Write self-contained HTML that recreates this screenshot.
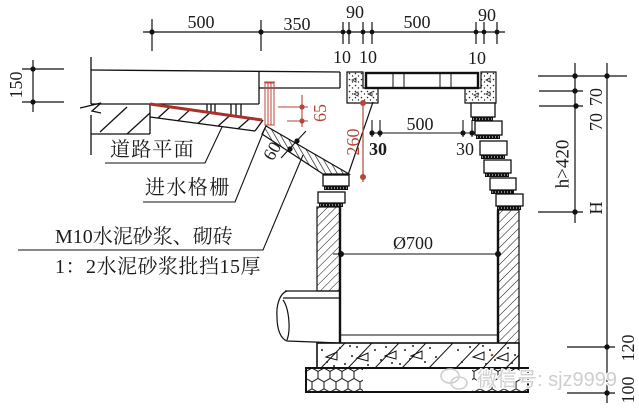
<!DOCTYPE html>
<html><head><meta charset="utf-8">
<style>
html,body{margin:0;padding:0;background:#fff;}
svg{display:block;}
text{font-family:"Liberation Serif","Noto Serif CJK SC",serif;fill:#1c1c1c;}
.n{font-size:18px;}
.cn{font-size:20px;}
.rd{fill:#b4463c;}
</style></head><body>
<svg width="639" height="410" viewBox="0 0 639 410" xmlns="http://www.w3.org/2000/svg">
<defs>
 <pattern id="hw" width="6" height="6" patternUnits="userSpaceOnUse" patternTransform="rotate(45)"><line x1="0" y1="0" x2="0" y2="6" stroke="#111" stroke-width="1"/></pattern>
 <pattern id="hb" width="5" height="5" patternUnits="userSpaceOnUse" patternTransform="rotate(-30)"><line x1="0" y1="0" x2="0" y2="5" stroke="#111" stroke-width="1.3"/></pattern>
 <pattern id="dots" width="6" height="6" patternUnits="userSpaceOnUse"><circle cx="1.5" cy="1.5" r="0.8" fill="#222"/><circle cx="4.5" cy="4" r="0.7" fill="#222"/></pattern>
 <pattern id="hex" x="306" y="368" width="12" height="20.78" patternUnits="userSpaceOnUse"><path d="M6,0 L12,3.46 L12,10.39 L6,13.86 L0,10.39 L0,3.46 Z M6,13.86 L6,20.78" fill="none" stroke="#111" stroke-width="1"/></pattern>
 <clipPath id="slabclip"><rect x="317" y="343" width="202" height="25"/></clipPath>
</defs>

<!-- top dimension -->
<g stroke="#111" stroke-width="1.2">
 <line x1="143" y1="32" x2="505" y2="32"/>
 <line x1="152" y1="19" x2="152" y2="51"/>
 <line x1="261" y1="20" x2="261" y2="51"/>
 <line x1="343" y1="22" x2="343" y2="44"/>
 <line x1="349" y1="22" x2="349" y2="44"/>
 <line x1="363" y1="22" x2="363" y2="44"/>
 <line x1="372" y1="22" x2="372" y2="44"/>
 <line x1="476" y1="22" x2="476" y2="44"/>
 <line x1="484" y1="22" x2="484" y2="44"/>
 <line x1="497" y1="22" x2="497" y2="44"/>
</g>
<g fill="#111">
 <circle cx="152" cy="32" r="2.6"/><circle cx="261" cy="32" r="2.6"/>
 <circle cx="343" cy="32" r="2.4"/><circle cx="349" cy="32" r="2.4"/>
 <circle cx="363" cy="32" r="2.4"/><circle cx="372" cy="32" r="2.4"/>
 <circle cx="476" cy="32" r="2.4"/><circle cx="484" cy="32" r="2.4"/><circle cx="497" cy="32" r="2.4"/>
</g>
<text class="n" x="201" y="28" text-anchor="middle">500</text>
<text class="n" x="297" y="30" text-anchor="middle">350</text>
<text class="n" x="355" y="18" text-anchor="middle">90</text>
<text class="n" x="417" y="28" text-anchor="middle">500</text>
<text class="n" x="487" y="21" text-anchor="middle">90</text>
<text class="n" x="342" y="63" text-anchor="middle">10</text>
<text class="n" x="368" y="63" text-anchor="middle">10</text>
<text class="n" x="477" y="64" text-anchor="middle">10</text>

<!-- 150 dim -->
<g stroke="#111" stroke-width="1.2">
 <line x1="33" y1="60" x2="33" y2="112"/>
 <line x1="22" y1="69" x2="64" y2="69"/>
 <line x1="22" y1="102" x2="64" y2="102"/>
</g>
<circle cx="33" cy="69" r="2.6" fill="#111"/><circle cx="33" cy="102" r="2.6" fill="#111"/>
<text class="n" x="16" y="85" text-anchor="middle" dominant-baseline="central" transform="rotate(-90 16 85)">150</text>

<!-- road -->
<g stroke="#111" stroke-width="1.3" fill="none">
 <line x1="91" y1="70" x2="340" y2="72"/>
 <line x1="91" y1="57" x2="91" y2="104"/>
 <line x1="91" y1="104" x2="259" y2="104"/>
 <line x1="259" y1="71" x2="259" y2="104"/>
 <line x1="259" y1="88" x2="340" y2="88"/>
 <line x1="340" y1="72" x2="340" y2="88"/>
 <polyline points="80,108 101,103 92,111 101,113"/>
 <line x1="91" y1="115" x2="91" y2="155"/>
 <line x1="150" y1="104" x2="150" y2="134"/>
 <line x1="91" y1="134" x2="150" y2="134"/>
 <line x1="100" y1="132" x2="127" y2="107"/>
 <line x1="127" y1="134" x2="150" y2="113"/>
 <line x1="150" y1="117" x2="255" y2="131"/>
 <line x1="255" y1="131" x2="263" y2="120"/>
 <line x1="158" y1="118" x2="170" y2="107"/>
 <line x1="178" y1="120.7" x2="190" y2="109.7"/>
 <line x1="198" y1="123.4" x2="210" y2="112.6"/>
 <line x1="218" y1="126.1" x2="230" y2="115.4"/>
 <line x1="238" y1="128.7" x2="250" y2="118.3"/>
 <line x1="207" y1="104" x2="207" y2="112"/>
 <line x1="211" y1="104" x2="211" y2="112.7"/>
 <line x1="215" y1="104" x2="215" y2="113.3"/>
 <line x1="231" y1="104" x2="231" y2="115.6"/>
 <line x1="236" y1="104" x2="236" y2="116.3"/>
 <line x1="241" y1="104" x2="241" y2="117"/>
</g>
<line x1="150" y1="104" x2="262" y2="120" stroke="#a8322a" stroke-width="3"/>
<!-- red grate -->
<g stroke="#c0453b" stroke-width="1" fill="none">
 <rect x="265" y="83" width="9" height="42"/>
 <line x1="268" y1="83" x2="268" y2="125"/>
 <line x1="271" y1="83" x2="271" y2="125"/>
 <line x1="264" y1="82" x2="275" y2="82"/>
</g>
<!-- 65 red dim -->
<g stroke="#b4463c" stroke-width="1.1">
 <line x1="278" y1="107" x2="308" y2="107"/>
 <line x1="287" y1="121" x2="308" y2="121"/>
 <line x1="302" y1="95" x2="302" y2="127"/>
</g>
<circle cx="302" cy="107" r="2.6" fill="#b4463c"/><circle cx="302" cy="121" r="2.6" fill="#b4463c"/>
<text class="n rd" x="320" y="113" text-anchor="middle" dominant-baseline="central" transform="rotate(-90 320 113)">65</text>

<!-- sloped band -->
<polygon points="266,126 349,174 323,174 262,134" fill="url(#hb)" stroke="#111" stroke-width="1.2"/>
<!-- 60 dim -->
<line x1="281" y1="158" x2="306" y2="131" stroke="#111" stroke-width="1.1"/>
<circle cx="290" cy="149" r="2.6" fill="#111"/><circle cx="297" cy="141" r="2.6" fill="#111"/>
<text class="n" x="272" y="151" text-anchor="middle" dominant-baseline="central" transform="rotate(-60 272 151)">60</text>

<!-- leaders & labels -->
<g stroke="#111" stroke-width="1.1" fill="none">
 <polyline points="105,163 205,163 222,127"/>
 <polyline points="143,202 235,202 265,128"/>
 <polyline points="18,250 263,250 303,155"/>
</g>
<text class="cn" x="110" y="156" letter-spacing="1.2">道路平面</text>
<text class="cn" x="145" y="194" letter-spacing="1.4">进水格栅</text>
<text class="cn" x="55" y="243">M10水泥砂浆、砌砖</text>
<text class="cn" x="55" y="273" letter-spacing="0.5">1：2水泥砂浆批挡15厚</text>

<!-- grate frame -->
<polygon points="347,72 363,72 363,88 378,88 378,103 347,103" fill="url(#dots)" stroke="#111" stroke-width="1.2"/>
<polygon points="481,72 496,72 496,103 465,103 465,88 481,88" fill="url(#dots)" stroke="#111" stroke-width="1.2"/>
<g fill="none" stroke="#333" stroke-width="0.9">
 <path d="M352,80 l4,-2 l0,4 z M354,94 l4,-2 l0,4 z M368,94 l4,-2 l0,4 z M486,80 l4,-2 l0,4 z M474,95 l4,-2 l0,4 z M486,94 l4,-2 l0,4 z"/>
</g>
<rect x="366" y="73" width="112" height="15" fill="#fff" stroke="#111" stroke-width="2.4"/>
<g stroke="#111" stroke-width="1">
 <line x1="393" y1="73" x2="393" y2="88"/><line x1="404" y1="73" x2="404" y2="88"/>
 <line x1="440" y1="73" x2="440" y2="88"/><line x1="451" y1="73" x2="451" y2="88"/>
</g>
<line x1="373" y1="102" x2="348" y2="175" stroke="#111" stroke-width="1.2"/>
<!-- 260 red -->
<line x1="363" y1="102" x2="363" y2="182" stroke="#b4463c" stroke-width="1.2"/>
<circle cx="363" cy="103" r="3" fill="#b4463c"/><circle cx="363" cy="177" r="3" fill="#b4463c"/>
<text class="n rd" x="353" y="142" text-anchor="middle" dominant-baseline="central" transform="rotate(-90 353 142)">260</text>

<!-- inner 500 dim -->
<g stroke="#111" stroke-width="1.1">
 <line x1="370" y1="133" x2="473" y2="133"/>
 <line x1="372" y1="120" x2="372" y2="137"/><line x1="380" y1="120" x2="380" y2="137"/>
 <line x1="463" y1="120" x2="463" y2="137"/><line x1="472" y1="120" x2="472" y2="137"/>
</g>
<g fill="#111"><circle cx="372" cy="133" r="2.6"/><circle cx="380" cy="133" r="2.6"/><circle cx="463" cy="133" r="2.6"/><circle cx="472" cy="133" r="2.6"/></g>
<text class="n" x="420" y="130" text-anchor="middle">500</text>
<text class="n" x="378" y="155" text-anchor="middle" font-weight="bold">30</text>
<text class="n" x="465" y="155" text-anchor="middle">30</text>

<!-- bricks -->
<g stroke="#111" stroke-width="1.3" fill="#fff">
 <rect x="471" y="103" width="24" height="14"/>
 <rect x="475" y="121" width="27" height="14"/>
 <rect x="480" y="141" width="27" height="14"/>
 <rect x="484" y="160" width="27" height="13"/>
 <rect x="490" y="178" width="26" height="12"/>
 <rect x="496" y="194" width="27" height="12"/>
 <rect x="323" y="175" width="26" height="11"/>
 <rect x="318" y="192" width="27" height="11"/>
</g>
<g fill="#111">
 <rect x="472" y="117" width="21" height="4"/>
 <rect x="476" y="135" width="24" height="4"/>
 <rect x="481" y="155" width="24" height="4"/>
 <rect x="485" y="173" width="24" height="4"/>
 <rect x="491" y="190" width="23" height="4"/>
 <rect x="497" y="206" width="24" height="4"/>
 <rect x="324" y="186" width="24" height="4"/>
 <rect x="319" y="203" width="24" height="4"/>
</g>
<g stroke="#fff" stroke-width="1" stroke-dasharray="1 2">
 <line x1="473" y1="119" x2="492" y2="119"/>
 <line x1="477" y1="137" x2="499" y2="137"/>
 <line x1="482" y1="157" x2="504" y2="157"/>
 <line x1="486" y1="175" x2="508" y2="175"/>
 <line x1="492" y1="192" x2="513" y2="192"/>
 <line x1="498" y1="208" x2="520" y2="208"/>
 <line x1="325" y1="188" x2="347" y2="188"/>
 <line x1="320" y1="205" x2="342" y2="205"/>
</g>

<!-- walls -->
<rect x="317" y="207" width="23" height="84" fill="url(#hw)" stroke="#111" stroke-width="1.2"/>
<rect x="498" y="210" width="21" height="133" fill="url(#hw)" stroke="#111" stroke-width="1.2"/>
<line x1="340" y1="207" x2="340" y2="343" stroke="#111" stroke-width="2.4"/>
<line x1="498" y1="210" x2="498" y2="343" stroke="#111" stroke-width="2.4"/>
<line x1="340" y1="335" x2="498" y2="335" stroke="#111" stroke-width="1"/>

<!-- Ø700 -->
<line x1="333" y1="254" x2="500" y2="254" stroke="#111" stroke-width="1.1"/>
<circle cx="341" cy="254" r="3" fill="#111"/><circle cx="498" cy="254" r="3" fill="#111"/>
<text class="n" x="413" y="249" text-anchor="middle">Ø700</text>

<!-- pipe -->
<g stroke="#111" stroke-width="1.2" fill="none">
 <line x1="285" y1="291" x2="340" y2="291"/>
 <line x1="283" y1="298" x2="340" y2="298"/>
 <line x1="287" y1="341" x2="340" y2="343"/>
 <path d="M287,291 C280,293 276,305 277,317 C277,330 281,339 287,341"/>
 <path d="M283,300 C289,308 291,330 287,340"/>
</g>

<!-- concrete slab -->
<rect x="317" y="343" width="202" height="25" fill="#fff" stroke="#111" stroke-width="1.6"/>
<g clip-path="url(#slabclip)" stroke="#111" stroke-width="1" fill="none">
 <line x1="321" y1="368" x2="345" y2="343"/>
 <line x1="348" y1="368" x2="372" y2="343"/>
 <line x1="375" y1="368" x2="399" y2="343"/>
 <line x1="402" y1="368" x2="426" y2="343"/>
 <line x1="429" y1="368" x2="453" y2="343"/>
 <line x1="456" y1="368" x2="480" y2="343"/>
 <line x1="483" y1="368" x2="507" y2="343"/>
 <line x1="506" y1="368" x2="531" y2="343"/>
 <path d="M326,357 l11,-5 l0,8 z M357,358 l11,-5 l0,8 z M385,356 l11,-5 l0,8 z M411,356 l11,-5 l0,8 z M473,357 l11,-5 l0,8 z M497,358 l11,-5 l0,8 z"/>
</g>
<g fill="#222">
 <circle cx="322" cy="350" r="1"/><circle cx="327" cy="362" r="1"/><circle cx="340" cy="348" r="1"/><circle cx="345" cy="364" r="1"/>
 <circle cx="352" cy="356" r="1"/><circle cx="357" cy="347" r="1"/><circle cx="368" cy="365" r="1"/><circle cx="375" cy="350" r="1"/>
 <circle cx="381" cy="360" r="1"/><circle cx="386" cy="347" r="1"/><circle cx="400" cy="364" r="1"/><circle cx="405" cy="350" r="1"/>
 <circle cx="410" cy="359" r="1"/><circle cx="425" cy="362" r="1"/><circle cx="430" cy="348" r="1"/><circle cx="436" cy="357" r="1"/>
 <circle cx="458" cy="350" r="1"/><circle cx="462" cy="362" r="1"/><circle cx="470" cy="347" r="1"/><circle cx="486" cy="364" r="1"/>
 <circle cx="490" cy="350" r="1"/><circle cx="495" cy="360" r="1"/><circle cx="508" cy="348" r="1"/><circle cx="512" cy="363" r="1"/>
 <circle cx="515" cy="355" r="1"/><circle cx="334" cy="366" r="1"/><circle cx="350" cy="346" r="1"/><circle cx="392" cy="363" r="1"/>
 <circle cx="413" cy="346" r="1"/><circle cx="483" cy="346" r="1"/>
</g>
<circle cx="492" cy="355" r="1.3" fill="#c0453b"/>

<!-- gravel -->
<rect x="306" y="368" width="57" height="24" fill="url(#hex)"/>
<rect x="472" y="368" width="56" height="24" fill="url(#hex)"/>
<rect x="306" y="368" width="222" height="24" fill="none" stroke="#111" stroke-width="2"/>

<!-- right dims -->
<g stroke="#111" stroke-width="1.2">
 <line x1="575" y1="63" x2="575" y2="223"/>
 <line x1="607" y1="63" x2="607" y2="403"/>
 <line x1="538" y1="76" x2="627" y2="76"/>
 <line x1="539" y1="91" x2="583" y2="91"/>
 <line x1="539" y1="106" x2="583" y2="106"/>
 <line x1="538" y1="212" x2="583" y2="212"/>
 <line x1="567" y1="347" x2="615" y2="347"/>
 <line x1="567" y1="393" x2="615" y2="393"/>
</g>
<g fill="#111">
 <circle cx="575" cy="76" r="2.7"/><circle cx="607" cy="76" r="2.7"/><circle cx="575" cy="91" r="2.7"/>
 <circle cx="576" cy="106" r="2.7"/><circle cx="575" cy="212" r="2.7"/><circle cx="607" cy="347" r="2.7"/><circle cx="607" cy="393" r="2.7"/>
</g>
<text class="n" x="596" y="97" text-anchor="middle" dominant-baseline="central" transform="rotate(-90 596 97)">70</text>
<text class="n" x="596" y="122" text-anchor="middle" dominant-baseline="central" transform="rotate(-90 596 122)">70</text>
<text x="563" y="164" font-size="19" text-anchor="middle" dominant-baseline="central" transform="rotate(-90 563 164)">h&gt;420</text>
<text class="n" x="596" y="208" text-anchor="middle" dominant-baseline="central" transform="rotate(-90 596 208)">H</text>
<text class="n" x="628" y="348" text-anchor="middle" dominant-baseline="central" transform="rotate(-90 628 348)">120</text>
<text class="n" x="628" y="390" text-anchor="middle" dominant-baseline="central" transform="rotate(-90 628 390)">100</text>

<!-- watermark -->
<g fill="none" stroke="#cfcfcf" stroke-width="1.6">
 <ellipse cx="450" cy="376" rx="9" ry="7"/>
 <ellipse cx="459" cy="383" rx="8" ry="6"/>
</g>
<text x="477" y="386" font-size="20" style="font-family:'Liberation Sans','Noto Sans CJK SC',sans-serif;fill:#cfcfcf;stroke:#fff;stroke-width:2;paint-order:stroke;">微信号: sjz9999</text>
</svg>
</body></html>
